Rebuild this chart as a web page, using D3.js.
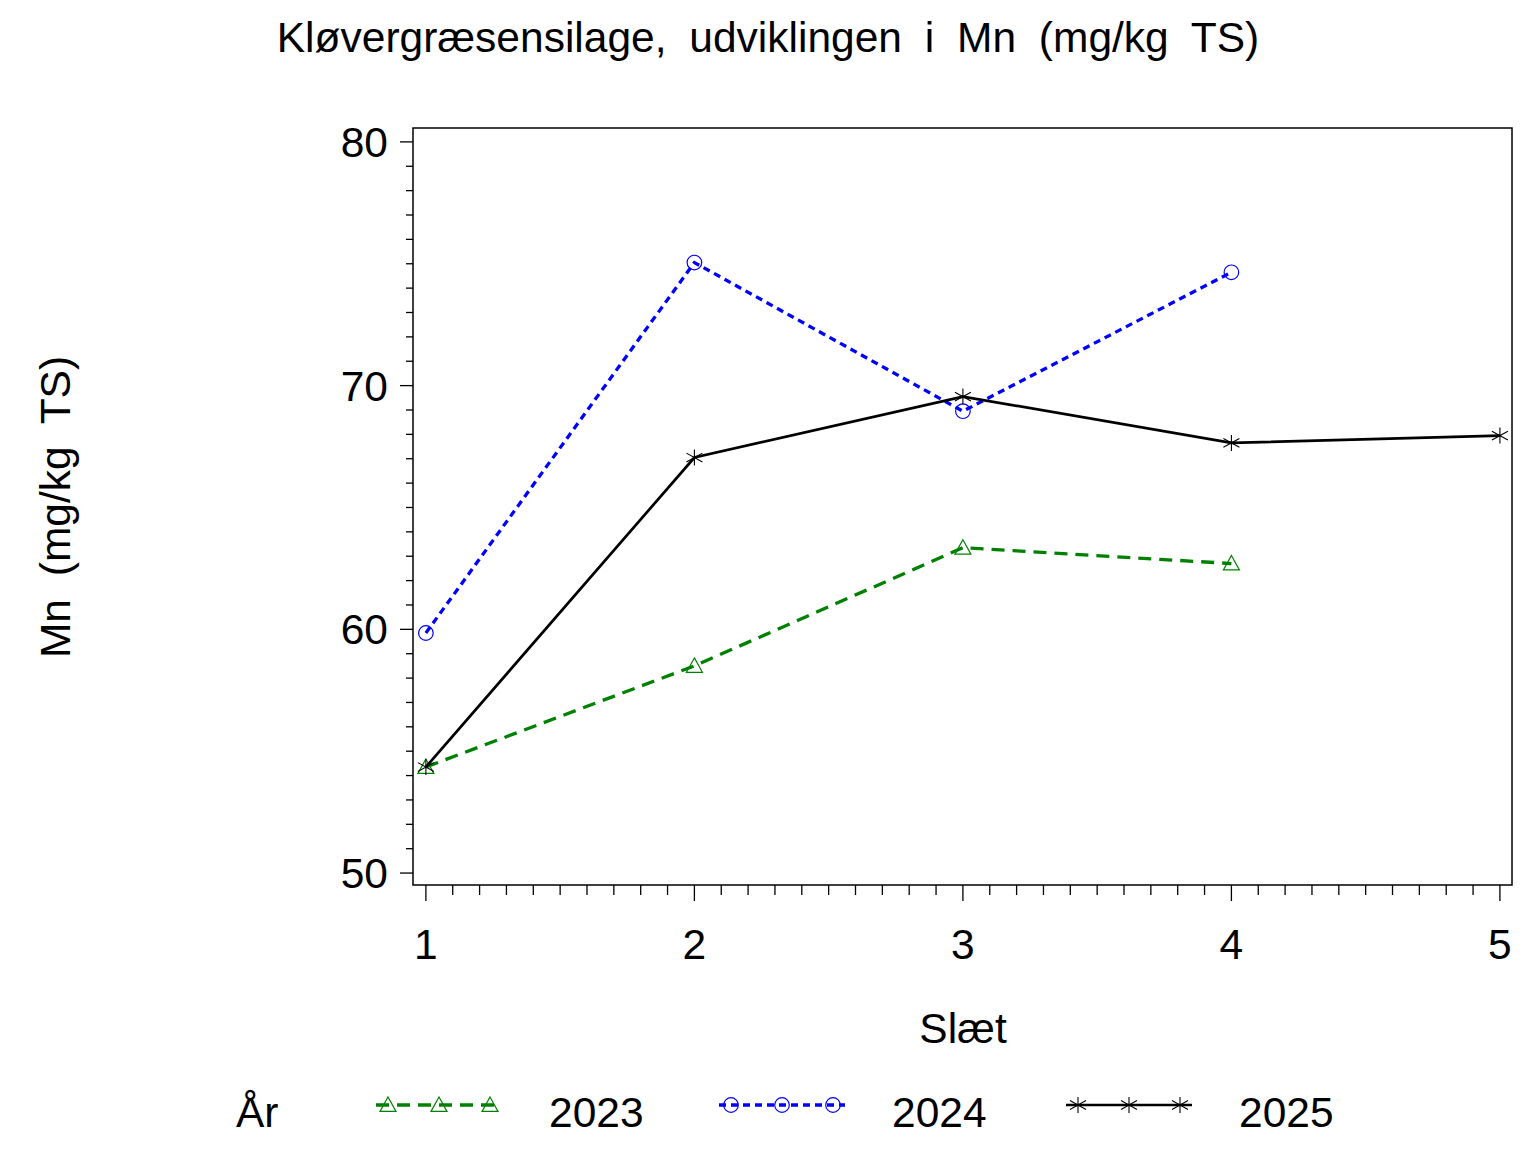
<!DOCTYPE html>
<html><head><meta charset="utf-8">
<script src="https://cdn.jsdelivr.net/npm/d3@7"></script>
<style>body{margin:0;background:#fff}svg{display:block}text{font-family:"Liberation Sans",Arial,sans-serif;fill:#000}</style>
</head><body>
<svg id="c" width="1536" height="1152"></svg>
<script>
const categories = [1, 2, 3, 4, 5];
const years = ["2023", "2024", "2025"];
const values2023 = [54.35, 58.5, 63.35, 62.7];
const values2024 = [59.85, 75.05, 68.95, 74.65];
const values2025 = [54.35, 67.05, 69.55, 67.65, 67.95];
const yTicks = [50, 60, 70, 80];
const titleText = "Kløvergræsensilage, udviklingen i Mn (mg/kg TS)";
const yLabel = "Mn (mg/kg TS)";
const xLabel = "Slæt";
const legendTitle = "År";

const svg = d3.select("#c");
const L = 413, T = 128, R = 1512, B = 885;
const x = d3.scaleLinear().domain([0.952, 5.045]).range([L, R]);
const y = d3.scaleLinear().domain([49.51, 80.57]).range([B, T]);
const FS = 42.5;

const series = [
  {name: years[0], values: values2023, color: "#008000", dash: "13,8", width: 3.3, marker: "tri"},
  {name: years[1], values: values2024, color: "#0000ff", dash: "7,5", width: 3.3, marker: "circ"},
  {name: years[2], values: values2025, color: "#000000", dash: null, width: 2.7, marker: "star"}
];

// title
svg.append("text").attr("x", 768).attr("y", 52).attr("text-anchor", "middle")
  .attr("font-size", FS).style("word-spacing", "11px").text(titleText);

// frame
svg.append("rect").attr("x", L).attr("y", T).attr("width", R - L).attr("height", B - T)
  .attr("fill", "none").attr("stroke", "#000").attr("stroke-width", 1.5);

// y axis
const yMinor = d3.range(50, 81, 1);
const ya = svg.append("g");
ya.selectAll("line").data(yMinor).join("line")
  .attr("x1", d => yTicks.includes(d) ? L - 13 : L - 7).attr("x2", L)
  .attr("y1", d => y(d)).attr("y2", d => y(d)).attr("stroke", "#000").attr("stroke-width", 1.3);
ya.selectAll("text").data(yTicks).join("text")
  .attr("x", L - 25).attr("y", d => y(d) + 15).attr("text-anchor", "end")
  .attr("font-size", FS).text(d => d);

// x axis
const xMinor = d3.range(10, 51, 1).map(d => d / 10);
const xa = svg.append("g");
xa.selectAll("line").data(xMinor).join("line")
  .attr("x1", d => x(d)).attr("x2", d => x(d))
  .attr("y1", B).attr("y2", d => Number.isInteger(d) ? B + 16 : B + 10)
  .attr("stroke", "#000").attr("stroke-width", 1.3);
xa.selectAll("text").data(categories).join("text")
  .attr("x", d => x(d)).attr("y", 959).attr("text-anchor", "middle")
  .attr("font-size", FS).text(d => d);

svg.append("text").attr("x", 963).attr("y", 1043).attr("text-anchor", "middle")
  .attr("font-size", FS).text(xLabel);
svg.append("text").attr("transform", "translate(70,507) rotate(-90)").attr("text-anchor", "middle")
  .attr("font-size", FS).style("word-spacing", "11px").text(yLabel);

function drawMarker(g, type, cx, cy, color) {
  if (type === "tri") {
    const s = 8;
    g.append("path").attr("d", `M${cx},${cy - s}L${cx + s},${cy + s * 0.8}L${cx - s},${cy + s * 0.8}Z`)
      .attr("fill", "none").attr("stroke", color).attr("stroke-width", 1.2);
  } else if (type === "circ") {
    g.append("circle").attr("cx", cx).attr("cy", cy).attr("r", 7.3)
      .attr("fill", "none").attr("stroke", color).attr("stroke-width", 1.2);
  } else {
    const s = 8;
    g.append("path").attr("d", `M${cx},${cy - s}V${cy + s}M${cx - s},${cy - s * 0.55}L${cx + s},${cy + s * 0.55}M${cx - s},${cy + s * 0.55}L${cx + s},${cy - s * 0.55}`)
      .attr("fill", "none").attr("stroke", color).attr("stroke-width", 1.1);
  }
}

const line = d3.line().x((d, i) => x(categories[i])).y(d => y(d));
series.forEach(s => {
  const g = svg.append("g");
  g.append("path").attr("d", line(s.values)).attr("fill", "none").attr("stroke", s.color)
    .attr("stroke-width", s.width).attr("stroke-dasharray", s.dash);
  s.values.forEach((v, i) => drawMarker(g, s.marker, x(categories[i]), y(v), s.color));
});

// legend
const ly = 1105;
svg.append("text").attr("x", 236).attr("y", 1127).attr("font-size", FS).text(legendTitle);
const legX = [376, 719, 1066];
series.forEach((s, k) => {
  const g = svg.append("g");
  const x0 = legX[k];
  g.append("line").attr("x1", x0).attr("x2", x0 + 126).attr("y1", ly).attr("y2", ly)
    .attr("stroke", s.color).attr("stroke-width", s.width).attr("stroke-dasharray", s.dash);
  [12, 63, 114].forEach(o => drawMarker(g, s.marker, x0 + o, ly, s.color));
  g.append("text").attr("x", x0 + 173).attr("y", 1127).attr("font-size", FS).text(s.name);
});
</script>
</body></html>
